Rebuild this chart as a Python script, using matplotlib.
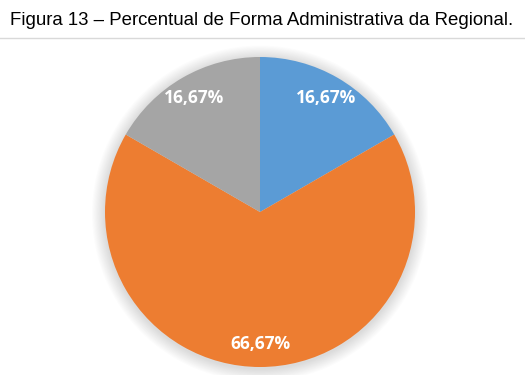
import matplotlib
matplotlib.use("Agg")
import matplotlib.pyplot as plt
from matplotlib.patches import Circle
from matplotlib.lines import Line2D
import numpy as np

categories = ["A", "B", "C"]
values = [16.67, 66.67, 16.67]
labels = ["16,67%", "66,67%", "16,67%"]
colors = ["#5B9BD5", "#ED7D31", "#A5A5A5"]
title = "Figura 13 – Percentual de Forma Administrativa da Regional."

fig = plt.figure(figsize=(5.25, 3.75), dpi=100)
fig.text(0.499, 0.945, title, ha="center", va="center", fontsize=13.4,
         family=["Liberation Sans", "DejaVu Sans"], color="#000000")
fig.add_artist(Line2D([0, 1], [0.899, 0.899], color="#D9D9D9", lw=1.0,
                      transform=fig.transFigure))

ax = fig.add_axes([0.2, 0.0213, 0.5905, 0.8267])
# soft shadow
for i in range(12):
    r = 1.0 + 0.007 * (12 - i)
    ax.add_patch(Circle((0.0, -0.01), r, color="#000000", alpha=0.012, lw=0,
                        zorder=0, clip_on=False))

wedges, texts = ax.pie(values, colors=colors, startangle=90, counterclock=False,
                       radius=1.0, wedgeprops=dict(linewidth=0))
for w, lab in zip(wedges, labels):
    ang = np.deg2rad((w.theta1 + w.theta2) / 2)
    d = 0.85
    ax.text(d * np.cos(ang), d * np.sin(ang), lab, ha="center", va="center",
            color="white", fontsize=12.5, fontweight="bold",
            family=["Open Sans", "DejaVu Sans"])
ax.set_xlim(-1, 1)
ax.set_ylim(-1, 1)
ax.set_aspect("equal")
ax.axis("off")
fig.savefig("out.png", dpi=100)
